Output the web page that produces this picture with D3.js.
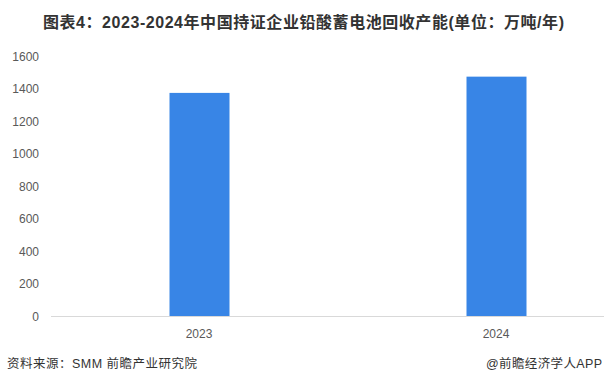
<!DOCTYPE html>
<html>
<head>
<meta charset="utf-8">
<script src="https://cdn.jsdelivr.net/npm/d3@7"></script>
<style>
  body { margin: 0; background: #fff; }
  text { font-family: "Liberation Sans", "Noto Sans CJK SC", sans-serif; }
</style>
</head>
<body>
<div id="chart"></div>
<script>
// chart data
var years = ["2023", "2024"];
var capacity = [1376, 1476];
var yTicks = [0, 200, 400, 600, 800, 1000, 1200, 1400, 1600];

var width = 604, height = 384;

var svg = d3.select("#chart").append("svg")
  .attr("width", width)
  .attr("height", height);

// title
svg.append("text")
  .attr("x", 43).attr("y", 28)
  .attr("textLength", 521)
  .attr("lengthAdjust", "spacing")
  .style("font-size", "16px")
  .style("font-weight", "bold")
  .style("fill", "#333")
  .text("图表4：2023-2024年中国持证企业铅酸蓄电池回收产能(单位：万吨/年)");

var x = d3.scaleBand().domain(years).range([51, 645]).padding(0);
var y = d3.scaleLinear().domain([0, 1600]).range([316.5, 56.5]);
var barW = 60;

// y labels
svg.selectAll(".ylab").data(yTicks).enter().append("text")
  .attr("class", "ylab")
  .attr("x", 39)
  .attr("y", function(d) { return y(d) + 4; })
  .attr("text-anchor", "end")
  .style("font-size", "12px")
  .style("fill", "#595959")
  .text(function(d) { return d; });

// bars
svg.selectAll("rect").data(capacity).enter().append("rect")
  .attr("x", function(d, i) { return x(years[i]) + x.bandwidth() / 2 - barW / 2; })
  .attr("y", function(d) { return y(d); })
  .attr("width", barW)
  .attr("height", function(d) { return y(0) - y(d); })
  .style("fill", "#3885E6");

// baseline
svg.append("line")
  .attr("x1", 51).attr("x2", width)
  .attr("y1", y(0)).attr("y2", y(0))
  .style("stroke", "#d9d9d9")
  .style("stroke-width", 1);

// x labels
svg.selectAll(".xlab").data(years).enter().append("text")
  .attr("class", "xlab")
  .attr("x", function(d) { return x(d) + x.bandwidth() / 2 - 0.5; })
  .attr("y", 338)
  .attr("text-anchor", "middle")
  .style("font-size", "12px")
  .style("fill", "#595959")
  .text(function(d) { return d; });

// footer
svg.append("text")
  .attr("x", 7).attr("y", 368)
  .attr("textLength", 190)
  .attr("lengthAdjust", "spacing")
  .style("font-size", "12.5px")
  .style("fill", "#333")
  .text("资料来源：SMM 前瞻产业研究院");

svg.append("text")
  .attr("x", 486).attr("y", 368)
  .attr("textLength", 116)
  .attr("lengthAdjust", "spacing")
  .style("font-size", "12.5px")
  .style("fill", "#333")
  .text("@前瞻经济学人APP");
</script>
</body>
</html>
